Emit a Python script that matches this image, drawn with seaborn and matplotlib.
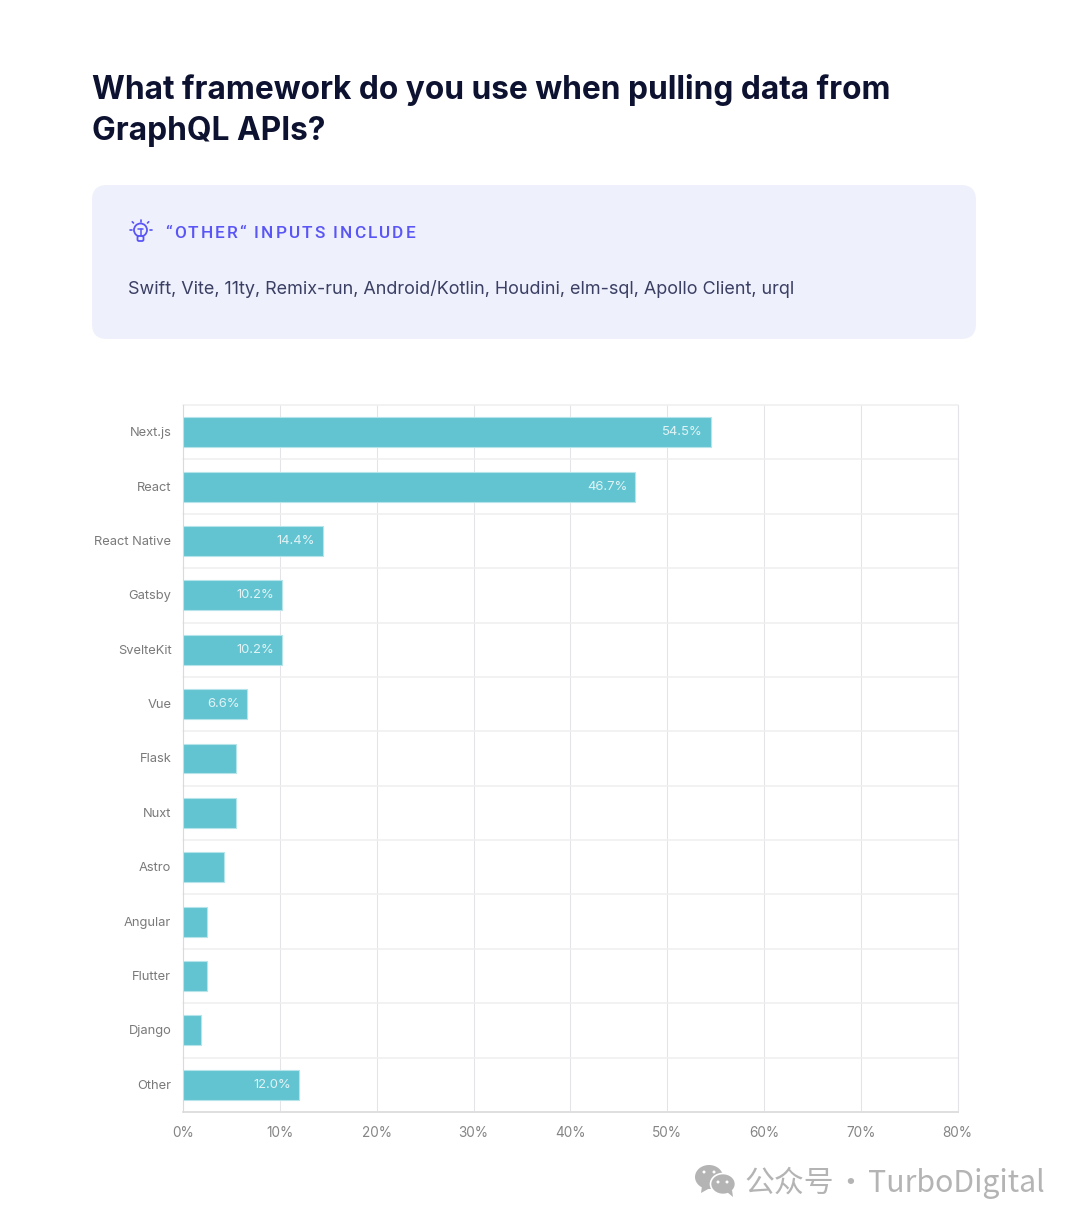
import pandas as pd
import numpy as np
import matplotlib
matplotlib.use("Agg")
import matplotlib.pyplot as plt
import matplotlib.transforms as mtrans
import seaborn as sns
from matplotlib.patches import FancyBboxPatch, Circle, Ellipse, Polygon

# values
frameworks = ["Next.js", "React", "React Native", "Gatsby", "SvelteKit", "Vue", "Flask",
              "Nuxt", "Astro", "Angular", "Flutter", "Django", "Other"]
shares = [54.5, 46.7, 14.4, 10.2, 10.2, 6.6, 5.4, 5.4, 4.2, 2.4, 2.4, 1.8, 12.0]
bar_labels = ["54.5%", "46.7%", "14.4%", "10.2%", "10.2%", "6.6%", "", "", "", "", "", "", "12.0%"]
x_ticks = [0, 10, 20, 30, 40, 50, 60, 70, 80]

title_lines = ["What framework do you use when pulling data from", "GraphQL APIs?"]
box_head = "“OTHER“ INPUTS INCLUDE"
box_body = "Swift, Vite, 11ty, Remix-run, Android/Kotlin, Houdini, elm-sql, Apollo Client, urql"
mark_cn = "公众号"
mark_dot = "·"
mark_en = "TurboDigital"

W, H = 1080, 1225
sns.set_theme(style="white")
plt.rcParams['font.family'] = ['Inter', 'DejaVu Sans']

df = pd.DataFrame({"framework": frameworks, "share": shares})

fig = plt.figure(figsize=(W / 100, H / 100), dpi=100, facecolor="white")

# page layer in pixel coordinates for the text and the box
page = fig.add_axes([0, 0, 1, 1], zorder=0)
page.set_xlim(0, W)
page.set_ylim(H, 0)
page.axis("off")

# chart
x0, x1, y0, y1 = 183.3, 957.5, 405, 1112
ax = fig.add_axes([x0 / W, 1 - y1 / H, (x1 - x0) / W, (y1 - y0) / H], zorder=1)
ax.patch.set_alpha(0)
sns.barplot(data=df, x="share", y="framework", color="#63C4D1", saturation=1, width=0.55,
            edgecolor="#B5E4EA", linewidth=0.8, ax=ax, zorder=3)
ax.set_xlim(0, 80)
ax.set_ylim(12.5, -0.5)
ax.set_xlabel("")
ax.set_ylabel("")
ax.set_xticks(x_ticks)
ax.set_xticklabels([f"{t}%" for t in x_ticks], fontsize=9.8, color="#858585")
ax.tick_params(axis="x", length=0, pad=10.3)
ax.tick_params(axis="y", length=0, pad=8.6, labelsize=9.3, labelcolor="#7A7A7A")
# centre the category labels on the bars, a pixel lower
nudge = mtrans.ScaledTranslation(0, -1 / 100, fig.dpi_scale_trans)
for t in ax.get_yticklabels():
    t.set_verticalalignment("center")
    t.set_transform(t.get_transform() + nudge)
ax.grid(axis="x", color="#E4E4E8", linewidth=0.75, zorder=0)
for k in np.arange(-0.5, 12.6, 1):
    ax.axhline(k, color="#EFEFEF", linewidth=1.1, zorder=1, clip_on=False)
for side in ["top", "right", "left"]:
    ax.spines[side].set_visible(False)
ax.spines["bottom"].set_color("#DADADA")
ax.spines["bottom"].set_linewidth(1.1)
ax.axvline(0, color="#DADADA", linewidth=0.8, zorder=2, clip_on=False)
ax.axvline(80, color="#E4E4E8", linewidth=0.8, zorder=2, clip_on=False)

labels = ax.bar_label(ax.containers[0], labels=bar_labels, label_type="edge", padding=-5.6,
                      color="white", fontsize=9.4, alpha=0.8)
for t in labels:
    t.set_ha("right")

# title
page.text(92, 99, title_lines[0], fontsize=22.8, fontweight="bold", color="#0D1230", va="baseline")
page.text(92, 140, title_lines[1], fontsize=22.8, fontweight="bold", color="#0D1230", va="baseline")

# callout box
page.add_patch(FancyBboxPatch((92, 185), 884, 154, boxstyle="round,pad=0,rounding_size=15",
                              linewidth=0, facecolor="#EEF0FC", zorder=0))

# header has wide letter spacing, so place it one character at a time
fig.canvas.draw()
renderer = fig.canvas.get_renderer()
pos = 165.0
for ch in box_head:
    t = page.text(pos, 238, ch, fontsize=12.4, color="#5A55F5", va="baseline", fontweight="medium",
                  family=["Roboto", "DejaVu Sans"])
    if ch == " ":
        pos += 6.0
    else:
        pos += t.get_window_extent(renderer).width + 2.1

page.text(128, 294, box_body, fontsize=12.95, color="#3A3F63", va="baseline")

# bulb icon
icon = "#5A55F5"
page.add_patch(Circle((140.5, 230), 6.5, fill=False, edgecolor=icon, linewidth=1.3))
page.add_patch(FancyBboxPatch((137.5, 236), 6, 5, boxstyle="round,pad=0,rounding_size=1.5",
                              facecolor="#EEF0FC", edgecolor=icon, linewidth=1.3))
page.plot([138, 143], [229, 229], color=icon, lw=1.1)
page.plot([140.5, 140.5], [229, 236], color=icon, lw=1.1)
for dx, dy, ex, ey in [(0, -8.5, 0, -10), (-7, -7, -8.2, -8.2), (7, -7, 8.2, -8.2), (-9, 0, -11, 0), (9, 0, 11, 0)]:
    page.plot([140.5 + dx, 140.5 + ex], [230 + dy, 230 + ey], color=icon, lw=1.2)

# watermark
grey = "#B4B4B4"
page.add_patch(Ellipse((709, 1177), 28, 24, color=grey, lw=0))
page.add_patch(Polygon([[702, 1186], [701, 1193], [710, 1188]], color=grey, lw=0))
page.add_patch(Ellipse((723, 1184), 25, 21, facecolor=grey, edgecolor="white", lw=1.2))
page.add_patch(Polygon([[727, 1192], [733, 1197], [732, 1190]], color=grey, lw=0))
for cx, cy in [(704, 1172), (714, 1172), (718, 1182), (727, 1182)]:
    page.add_patch(Circle((cx, cy), 1.5, color="white", lw=0))
cjk = ["Noto Sans CJK SC", "DejaVu Sans"]
page.text(744, 1192, mark_cn, fontsize=21.5, color=grey, va="baseline", family=cjk)
page.text(850, 1192, mark_dot, fontsize=21.5, color=grey, va="baseline", ha="center", family=cjk)
page.text(868, 1192, mark_en, fontsize=21.8, color=grey, va="baseline", family=cjk)

fig.savefig("out.png", dpi=100, facecolor="white")
